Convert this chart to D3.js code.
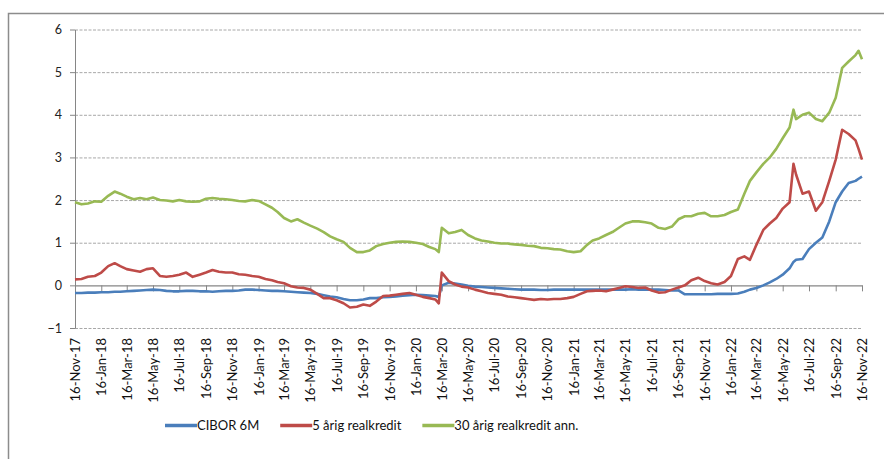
<!DOCTYPE html>
<html>
<head>
<meta charset="utf-8">
<script src="https://cdn.jsdelivr.net/npm/d3@7"></script>
<style>
  body { margin: 0; background: #fff; }
  text { font-family: Lato, "Liberation Sans", sans-serif; }
</style>
</head>
<body>
<div id="container"></div>
<script>

    // observation dates (1st and 16th of each month, a few extra around jumps)
    const dates = [
        "2017-11-16","2017-12-01","2017-12-16",
        "2018-01-01","2018-01-16","2018-02-01","2018-02-16","2018-03-01","2018-03-16","2018-04-01","2018-04-16","2018-05-01","2018-05-16","2018-06-01","2018-06-16","2018-07-01","2018-07-16","2018-08-01","2018-08-16","2018-09-01","2018-09-16","2018-10-01","2018-10-16","2018-11-01","2018-11-16","2018-12-01","2018-12-16",
        "2019-01-01","2019-01-16","2019-02-01","2019-02-16","2019-03-01","2019-03-16","2019-04-01","2019-04-16","2019-05-01","2019-05-16","2019-06-01","2019-06-16","2019-07-01","2019-07-16","2019-08-01","2019-08-16","2019-09-01","2019-09-16","2019-10-01","2019-10-16","2019-11-01","2019-11-16","2019-12-01","2019-12-16",
        "2020-01-01","2020-01-16","2020-02-01","2020-02-16","2020-03-01","2020-03-09","2020-03-16","2020-04-01","2020-04-16","2020-05-01","2020-05-16","2020-06-01","2020-06-16","2020-07-01","2020-07-16","2020-08-01","2020-08-16","2020-09-01","2020-09-16","2020-10-01","2020-10-16","2020-11-01","2020-11-16","2020-12-01","2020-12-16",
        "2021-01-01","2021-01-16","2021-02-01","2021-02-16","2021-03-01","2021-03-16","2021-04-01","2021-04-16","2021-05-01","2021-05-16","2021-06-01","2021-06-16","2021-07-01","2021-07-16","2021-08-01","2021-08-16","2021-09-01","2021-09-16","2021-10-01","2021-10-16","2021-11-01","2021-11-16","2021-12-01","2021-12-16",
        "2022-01-01","2022-01-16","2022-02-01","2022-02-16","2022-03-01","2022-03-16","2022-04-01","2022-04-16","2022-05-01","2022-05-16","2022-06-01","2022-06-10","2022-06-16","2022-07-01","2022-07-16","2022-08-01","2022-08-16","2022-09-01","2022-09-16","2022-10-01","2022-10-16","2022-11-01","2022-11-08","2022-11-16"
    ];

    // CIBOR 6M
    const cibor = [
        -0.18, -0.18, -0.17,
        -0.17, -0.16, -0.16, -0.15, -0.15, -0.14, -0.13, -0.12, -0.11, -0.10, -0.11, -0.13, -0.14, -0.14, -0.13, -0.13, -0.14, -0.14, -0.15, -0.14, -0.13, -0.13, -0.12, -0.10,
        -0.10, -0.11, -0.12, -0.13, -0.13, -0.14, -0.15, -0.16, -0.17, -0.18, -0.20, -0.23, -0.26, -0.28, -0.32, -0.35, -0.35, -0.33, -0.30, -0.30, -0.28, -0.27, -0.26, -0.24,
        -0.23, -0.22, -0.23, -0.24, -0.25, -0.27, 0.00, 0.06, 0.04, 0.02, -0.01, -0.03, -0.04, -0.05, -0.06, -0.07, -0.08, -0.09, -0.10, -0.10, -0.10, -0.11, -0.11, -0.10, -0.10,
        -0.10, -0.10, -0.10, -0.10, -0.10, -0.10, -0.10, -0.10, -0.10, -0.10, -0.09, -0.10, -0.10, -0.10, -0.10, -0.11, -0.12, -0.12, -0.21, -0.21, -0.21, -0.21, -0.21, -0.20,
        -0.20, -0.20, -0.19, -0.15, -0.10, -0.06, 0.00, 0.07, 0.15, 0.25, 0.40, 0.55, 0.60, 0.62, 0.85, 1.00, 1.12, 1.50, 1.95, 2.20, 2.40, 2.45, 2.50, 2.55
    ];

    // 5 årig realkredit
    const real5 = [
        0.14, 0.15, 0.20,
        0.22, 0.30, 0.45, 0.52, 0.45, 0.38, 0.35, 0.32, 0.38, 0.40, 0.22, 0.20, 0.22, 0.25, 0.30, 0.20, 0.25, 0.30, 0.36, 0.32, 0.30, 0.30, 0.26, 0.25,
        0.22, 0.20, 0.15, 0.12, 0.08, 0.05, -0.02, -0.05, -0.06, -0.10, -0.20, -0.30, -0.30, -0.35, -0.42, -0.52, -0.50, -0.45, -0.48, -0.38, -0.25, -0.24, -0.22, -0.20,
        -0.18, -0.22, -0.27, -0.30, -0.33, -0.42, 0.30, 0.10, 0.02, -0.03, -0.05, -0.10, -0.14, -0.18, -0.20, -0.22, -0.26, -0.28, -0.30, -0.32, -0.34, -0.32, -0.33, -0.32, -0.32,
        -0.30, -0.27, -0.20, -0.14, -0.13, -0.12, -0.14, -0.10, -0.06, -0.02, -0.04, -0.06, -0.05, -0.12, -0.17, -0.16, -0.10, -0.05, 0.00, 0.12, 0.18, 0.10, 0.05, 0.02,
        0.08, 0.22, 0.62, 0.68, 0.60, 0.95, 1.30, 1.45, 1.58, 1.80, 1.95, 2.85, 2.60, 2.15, 2.20, 1.75, 1.95, 2.45, 2.95, 3.65, 3.55, 3.40, 3.20, 2.95
    ];

    // 30 årig realkredit ann.
    const real30 = [
        1.95, 1.90, 1.92,
        1.97, 1.96, 2.10, 2.20, 2.15, 2.08, 2.02, 2.05, 2.02, 2.06, 2.00, 1.99, 1.97, 2.00, 1.97, 1.96, 1.97, 2.03, 2.05, 2.03, 2.02, 2.00, 1.98, 1.97,
        2.00, 1.98, 1.90, 1.82, 1.72, 1.58, 1.50, 1.55, 1.47, 1.40, 1.33, 1.25, 1.15, 1.08, 1.02, 0.88, 0.78, 0.78, 0.82, 0.92, 0.97, 1.00, 1.02, 1.03,
        1.02, 1.00, 0.97, 0.90, 0.85, 0.78, 1.35, 1.22, 1.25, 1.30, 1.18, 1.10, 1.05, 1.03, 1.00, 0.98, 0.98, 0.96, 0.95, 0.93, 0.92, 0.88, 0.87, 0.85, 0.84,
        0.80, 0.78, 0.80, 0.95, 1.05, 1.10, 1.18, 1.25, 1.35, 1.45, 1.50, 1.50, 1.48, 1.45, 1.35, 1.32, 1.38, 1.55, 1.62, 1.62, 1.68, 1.70, 1.62, 1.62,
        1.65, 1.72, 1.78, 2.15, 2.45, 2.65, 2.85, 3.00, 3.20, 3.45, 3.70, 4.12, 3.90, 4.00, 4.05, 3.90, 3.85, 4.05, 4.40, 5.10, 5.25, 5.40, 5.50, 5.30
    ];

    const seriesNames = ["CIBOR 6M", "5 årig realkredit", "30 årig realkredit ann."];

    const tickDates = [
        "2017-11-16","2018-01-16","2018-03-16","2018-05-16","2018-07-16","2018-09-16","2018-11-16",
        "2019-01-16","2019-03-16","2019-05-16","2019-07-16","2019-09-16","2019-11-16",
        "2020-01-16","2020-03-16","2020-05-16","2020-07-16","2020-09-16","2020-11-16",
        "2021-01-16","2021-03-16","2021-05-16","2021-07-16","2021-09-16","2021-11-16",
        "2022-01-16","2022-03-16","2022-05-16","2022-07-16","2022-09-16","2022-11-16"
    ];
    const yTicks = [-1, 0, 1, 2, 3, 4, 5, 6];

    // layout
    const width = 884;
    const height = 459;
    const plotLeft = 75, plotRight = 862, plotTop = 29.5, plotBottom = 328;
    const colors = ["#4a7ebb", "#be4b48", "#98b954"];

    const parse = d3.timeParse("%Y-%m-%d");
    const fmt = d3.timeFormat("%d-%b-%y");
    const xDates = dates.map(parse);

    const svg = d3.create("svg")
        .attr("width", width)
        .attr("height", height);

    // outer frame (only top and left visible)
    svg.append("path")
        .attr("d", `M8.5,${height} V13.5 H${width}`)
        .attr("fill", "none")
        .attr("stroke", "#8c8c8c")
        .attr("stroke-width", 1.5);

    const x = d3.scaleTime()
        .domain([parse(tickDates[0]), parse(tickDates[tickDates.length - 1])])
        .range([plotLeft, plotRight]);

    const y = d3.scaleLinear()
        .domain([-1, 6])
        .range([plotBottom, plotTop]);

    // gridlines
    svg.append("g")
        .attr("transform", `translate(${plotLeft},0)`)
        .call(d3.axisLeft(y).tickValues(yTicks.filter(d => d !== 0)).tickSize(-(plotRight - plotLeft)).tickFormat(""))
        .call(g => g.select(".domain").remove())
        .call(g => g.selectAll("line")
            .attr("stroke", "#a8a8a8")
            .attr("stroke-dasharray", "3,1.5"));

    // y axis
    svg.append("g")
        .attr("transform", `translate(${plotLeft},0)`)
        .call(d3.axisLeft(y).tickValues(yTicks).tickSize(5).tickSizeOuter(0).tickPadding(8).tickFormat(d3.format("d")))
        .call(g => g.select(".domain").attr("stroke", "#868686"))
        .call(g => g.selectAll("line").attr("stroke", "#868686"))
        .call(g => g.selectAll("text")
            .attr("font-size", 12.5)
            .attr("font-family", "Lato, sans-serif")
            .attr("fill", "#222"));

    // x axis at zero
    svg.append("g")
        .attr("transform", `translate(0,${y(0)})`)
        .call(d3.axisBottom(x).tickValues(tickDates.map(parse)).tickSize(6).tickSizeOuter(0).tickFormat(""))
        .call(g => g.select(".domain").attr("stroke", "#868686").attr("stroke-width", 1.2))
        .call(g => g.selectAll("line").attr("stroke", "#868686"));

    // x tick labels below the plot
    svg.append("g")
        .attr("transform", `translate(0,${plotBottom})`)
        .call(d3.axisBottom(x).tickValues(tickDates.map(parse)).tickSize(0).tickFormat(fmt))
        .call(g => g.select(".domain").remove())
        .call(g => g.selectAll("text")
            .attr("font-size", 13)
            .attr("font-family", "Lato, sans-serif")
            .attr("fill", "#111")
            .attr("text-anchor", "end")
            .attr("transform", "rotate(-90)")
            .attr("x", -10)
            .attr("y", 0)
            .attr("dy", "0.35em"));

    // series lines
    const seriesValues = [cibor, real5, real30];
    const line = d3.line()
        .x((d, i) => x(xDates[i]))
        .y(d => y(d));

    seriesValues.forEach((vals, k) => {
        svg.append("path")
            .datum(vals)
            .attr("fill", "none")
            .attr("stroke", colors[k])
            .attr("stroke-width", 2.6)
            .attr("stroke-linejoin", "round")
            .attr("d", line);
    });

    document.getElementById("container").append(svg.node());

    // legend
    const legend = svg.append("g").attr("transform", "translate(165,425.5)");
    let cx = 0;
    seriesNames.forEach((name, k) => {
        legend.append("line")
            .attr("x1", cx).attr("x2", cx + 32)
            .attr("y1", 0).attr("y2", 0)
            .attr("stroke", colors[k])
            .attr("stroke-width", 3.5);
        const t = legend.append("text")
            .attr("x", cx + 32)
            .attr("y", 0)
            .attr("dy", "0.35em")
            .attr("font-size", 13)
            .attr("fill", "#111")
            .text(name);
        cx += 32 + t.node().getComputedTextLength() + 21;
    });

</script>
</body>
</html>
